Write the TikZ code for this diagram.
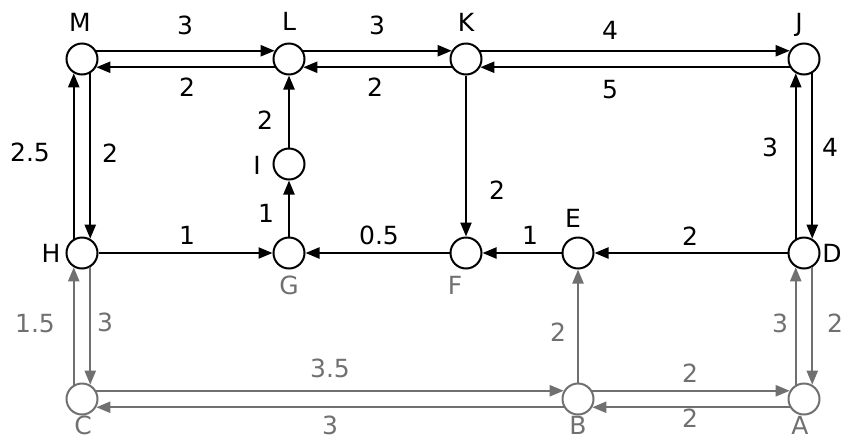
\documentclass[tikz,border=0pt]{standalone}
\usepackage{fontspec}
\setmainfont{DejaVu Sans}
\usetikzlibrary{arrows.meta}
\definecolor{grayc}{RGB}{112,112,112}
\begin{document}
\begin{tikzpicture}[x=1pt,y=-1pt,
  vtx/.style={circle,draw,line width=2pt,minimum size=31pt,inner sep=0pt},
  gvtx/.style={vtx,draw=grayc},
  arr/.style={line width=2.2pt,-{Triangle[length=14pt,width=11pt]}},
  garr/.style={arr,draw=grayc},
  lab/.style={font=\fontsize{25}{28}\selectfont,inner sep=0pt},
  glab/.style={lab,text=grayc}]
\useasboundingbox (0,0) rectangle (846,440);
% vertices
\node[vtx] (M) at (82,59) {};
\node[vtx] (L) at (289,59) {};
\node[vtx] (K) at (466,59) {};
\node[vtx] (J) at (804,59) {};
\node[vtx] (I) at (289,164) {};
\node[vtx] (H) at (82,253) {};
\node[vtx] (G) at (289,253) {};
\node[vtx] (F) at (466,253) {};
\node[vtx] (E) at (578,253) {};
\node[vtx] (D) at (804,253) {};
\node[gvtx] (C) at (82,399) {};
\node[gvtx] (B) at (578,399) {};
\node[gvtx] (A) at (804,399) {};
% vertex labels
\node[lab] (tM) at (80,22) {M};
\node[lab] (tL) at (289,21) {L};
\node[lab] (tK) at (466,22) {K};
\node[lab] (tJ) at (799,25) {J};
\node[lab] (tI) at (257,165) {I};
\node[lab] (tH) at (51,253) {H};
\node[glab] (tG) at (289,285) {G};
\node[glab] (tF) at (455,285) {F};
\node[lab] (tE) at (573,218) {E};
\node[lab] (tD) at (832,253) {D};
\node[glab] (tC) at (83,425) {C};
\node[glab] (tB) at (578,425) {B};
\node[glab] (tA) at (800,425) {A};
% black edges
\draw[arr] (M.30) -- (L.150);
\draw[arr] (L.-150) -- (M.-30);
\draw[arr] (L.30) -- (K.150);
\draw[arr] (K.-150) -- (L.-30);
\draw[arr] (K.30) -- (J.150);
\draw[arr] (J.-150) -- (K.-30);
\draw[arr] (H.120) -- (M.240);
\draw[arr] (M.300) -- (H.60);
\draw[arr] (D.120) -- (J.240);
\draw[arr] (J.300) -- (D.60);
\draw[arr] (I) -- (L);
\draw[arr] (G) -- (I);
\draw[arr] (H) -- (G);
\draw[arr] (F) -- (G);
\draw[arr] (E) -- (F);
\draw[arr] (D) -- (E);
\draw[arr] (K) -- (F);
% gray edges
\draw[garr] (C.120) -- (H.240);
\draw[garr] (H.300) -- (C.60);
\draw[garr] (A.120) -- (D.240);
\draw[garr] (D.300) -- (A.60);
\draw[garr] (C.30) -- (B.150);
\draw[garr] (B.-150) -- (C.-30);
\draw[garr] (B.30) -- (A.150);
\draw[garr] (A.-150) -- (B.-30);
\draw[garr] (B) -- (E);
% edge labels
\node[lab] (wML) at (185,25) {3};
\node[lab] (wLM) at (187,87) {2};
\node[lab] (wLK) at (377,25) {3};
\node[lab] (wKL) at (375,87) {2};
\node[lab] (wKJ) at (610,30) {4};
\node[lab] (wJK) at (610,90) {5};
\node[lab] (wHM) at (30,152) {2.5};
\node[lab] (wMH) at (110,153) {2};
\node[lab] (wIL) at (265,120) {2};
\node[lab] (wGI) at (266,213) {1};
\node[lab] (wKF) at (497,190) {2};
\node[lab] (wDJ) at (770,147) {3};
\node[lab] (wJD) at (830,147) {4};
\node[lab] (wHG) at (187,235) {1};
\node[lab] (wFG) at (379,235) {0.5};
\node[lab] (wEF) at (530,235) {1};
\node[lab] (wDE) at (690,236) {2};
\node[glab] (wCH) at (35,324) {1.5};
\node[glab] (wHC) at (105,322) {3};
\node[glab] (wCB) at (330,368) {3.5};
\node[glab] (wBC) at (330,425) {3};
\node[glab] (wBE) at (558,332) {2};
\node[glab] (wBA) at (690,373) {2};
\node[glab] (wAB) at (690,418) {2};
\node[glab] (wAD) at (780,323) {3};
\node[glab] (wDA) at (835,323) {2};
\end{tikzpicture}
\end{document}
